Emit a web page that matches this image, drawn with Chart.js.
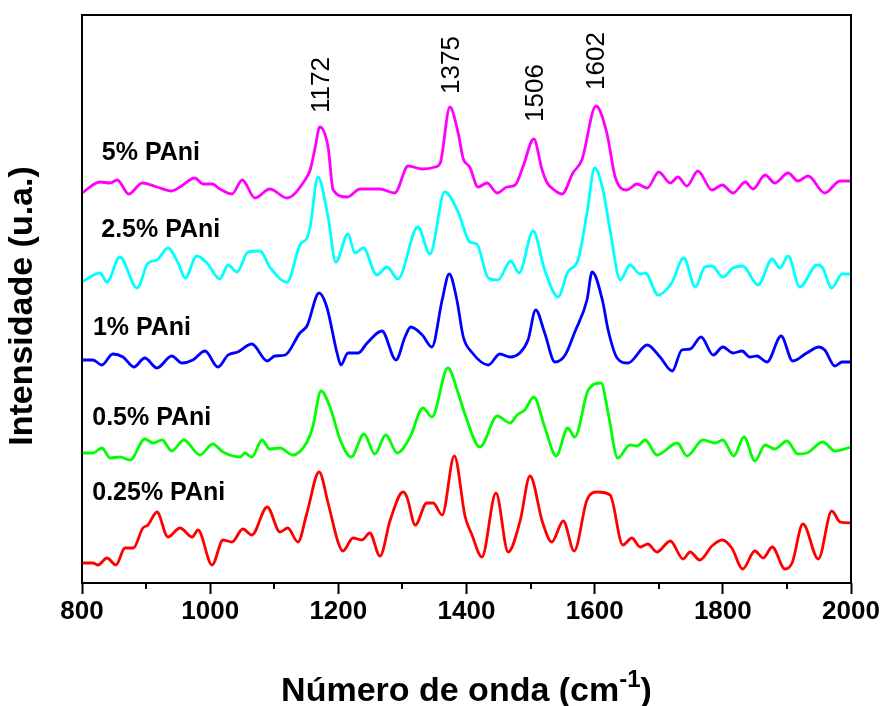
<!DOCTYPE html>
<html>
<head>
<meta charset="utf-8">
<script src="https://cdn.jsdelivr.net/npm/chart.js@4.4.1/dist/chart.umd.min.js"></script>
<style>
  html, body { margin: 0; padding: 0; background: #fff; }
  #wrap { width: 888px; height: 706px; }
</style>
</head>
<body>
<div id="wrap"><canvas id="raman"></canvas></div>
<script>
// Raman spectra, stacked (intensity already includes the vertical offset)
var seriesNames = ['5% PAni', '2.5% PAni', '1% PAni', '0.5% PAni', '0.25% PAni'];
var seriesColors = ['#ff00ff', '#00ffff', '#0000ff', '#00ff00', '#ff0000'];

var pani5Wn = [800, 828, 844, 855, 873, 894, 917, 940, 953, 976, 989, 1003, 1015, 1034, 1050, 1070, 1093, 1120, 1148, 1156, 1164, 1171, 1184, 1192, 1214, 1234, 1265, 1288, 1309, 1331, 1351, 1359, 1374, 1387, 1395, 1405, 1418, 1432, 1448, 1463, 1476, 1488, 1505, 1518, 1526, 1535, 1549, 1566, 1580, 1602, 1619, 1632, 1650, 1666, 1682, 1700, 1718, 1730, 1744, 1761, 1783, 1799, 1816, 1835, 1847, 1866, 1881, 1902, 1917, 1933, 1959, 1983, 2000];
var pani5I = [390, 401, 400, 403, 389, 400, 396, 392, 396, 405, 399, 399, 394, 389, 403, 385, 394, 385, 403, 413, 436, 456, 436, 393, 386, 394, 394, 390, 417, 414, 416, 420, 476, 450, 424, 416, 396, 400, 390, 396, 398, 416, 444, 413, 400, 394, 389, 410, 423, 477, 450, 406, 393, 399, 395, 411, 400, 406, 397, 412, 393, 398, 390, 401, 394, 408, 400, 410, 402, 407, 390, 402, 402];

var pani25Wn = [800, 828, 839, 859, 886, 903, 917, 934, 950, 961, 979, 995, 1015, 1028, 1042, 1059, 1078, 1093, 1120, 1140, 1151, 1156, 1168, 1184, 1196, 1215, 1226, 1239, 1260, 1276, 1293, 1324, 1343, 1366, 1387, 1405, 1416, 1434, 1449, 1469, 1482, 1504, 1522, 1543, 1558, 1574, 1588, 1600, 1613, 1624, 1640, 1655, 1671, 1679, 1699, 1720, 1739, 1757, 1772, 1783, 1800, 1816, 1831, 1855, 1877, 1889, 1902, 1920, 1947, 1955, 1970, 1986, 2000];
var pani25I = [301, 310, 301, 326, 295, 320, 323, 335, 320, 305, 327, 320, 304, 318, 311, 331, 332, 316, 301, 338, 345, 356, 406, 366, 321, 349, 330, 335, 308, 316, 304, 356, 329, 391, 371, 341, 339, 305, 303, 322, 310, 352, 313, 286, 311, 323, 370, 415, 393, 353, 303, 318, 309, 310, 288, 300, 325, 296, 316, 317, 306, 315, 317, 298, 324, 315, 327, 296, 318, 316, 295, 309, 309];

var pani1Wn = [800, 817, 831, 848, 864, 881, 898, 917, 940, 956, 973, 992, 1012, 1028, 1043, 1065, 1089, 1101, 1117, 1140, 1151, 1170, 1182, 1198, 1204, 1215, 1231, 1245, 1268, 1290, 1304, 1313, 1331, 1346, 1362, 1373, 1385, 1395, 1408, 1434, 1452, 1468, 1483, 1496, 1508, 1522, 1538, 1554, 1569, 1588, 1596, 1612, 1621, 1635, 1652, 1682, 1702, 1721, 1736, 1749, 1766, 1785, 1800, 1816, 1830, 1842, 1853, 1869, 1891, 1909, 1931, 1950, 1959, 1975, 1986, 2000];
var pani1I = [223, 223, 218, 229, 226, 216, 225, 215, 227, 220, 223, 232, 216, 228, 231, 239, 222, 227, 228, 250, 257, 290, 276, 230, 218, 230, 230, 240, 252, 223, 246, 256, 248, 236, 283, 309, 283, 246, 231, 218, 229, 226, 230, 243, 273, 250, 221, 228, 251, 283, 311, 283, 253, 225, 220, 238, 226, 212, 233, 234, 246, 228, 236, 230, 232, 226, 227, 221, 247, 222, 230, 236, 233, 217, 221, 221];

var pani05Wn = [800, 817, 831, 844, 859, 875, 898, 911, 925, 940, 959, 984, 1004, 1020, 1047, 1054, 1065, 1081, 1093, 1109, 1129, 1151, 1160, 1173, 1187, 1203, 1220, 1240, 1257, 1274, 1292, 1312, 1332, 1346, 1371, 1387, 1398, 1421, 1448, 1468, 1479, 1491, 1505, 1522, 1540, 1558, 1569, 1590, 1610, 1621, 1636, 1655, 1666, 1679, 1697, 1729, 1744, 1769, 1788, 1800, 1817, 1833, 1850, 1866, 1881, 1900, 1917, 1931, 1956, 1975, 2000];
var pani05I = [130, 130, 135, 125, 126, 123, 144, 140, 143, 132, 143, 128, 139, 131, 126, 130, 126, 143, 134, 135, 128, 141, 156, 192, 176, 143, 126, 149, 129, 148, 130, 146, 175, 166, 215, 190, 168, 136, 167, 160, 168, 173, 186, 156, 127, 155, 146, 193, 200, 170, 125, 138, 137, 143, 128, 140, 127, 143, 140, 143, 127, 146, 122, 138, 134, 142, 129, 130, 141, 132, 136];

var pani025Wn = [800, 817, 825, 839, 853, 867, 880, 895, 903, 917, 934, 953, 972, 981, 1003, 1020, 1034, 1051, 1065, 1089, 1109, 1121, 1137, 1151, 1170, 1184, 1200, 1207, 1223, 1237, 1249, 1265, 1281, 1301, 1307, 1320, 1338, 1348, 1362, 1381, 1398, 1408, 1424, 1446, 1465, 1484, 1499, 1519, 1533, 1551, 1568, 1588, 1604, 1624, 1644, 1658, 1671, 1683, 1697, 1718, 1738, 1749, 1764, 1783, 1799, 1814, 1831, 1850, 1863, 1877, 1897, 1908, 1925, 1949, 1970, 1983, 2000];
var pani025I = [20, 20, 18, 25, 18, 35, 35, 55, 58, 71, 46, 55, 46, 53, 18, 43, 41, 54, 48, 76, 51, 55, 41, 70, 111, 80, 40, 32, 45, 43, 50, 27, 63, 91, 86, 58, 80, 80, 68, 127, 66, 49, 26, 90, 31, 63, 107, 60, 41, 62, 32, 83, 91, 88, 38, 45, 36, 39, 31, 42, 24, 31, 23, 37, 43, 35, 14, 32, 25, 36, 14, 20, 59, 24, 72, 61, 60];

var peakLabels = ['1172', '1375', '1506', '1602'];
var peakWn = [1172, 1375, 1506, 1602];

var xTicks = [800, 1000, 1200, 1400, 1600, 1800, 2000];
var minorTicks = [900, 1100, 1300, 1500, 1700, 1900];

var allWn = [pani5Wn, pani25Wn, pani1Wn, pani05Wn, pani025Wn];
var allI = [pani5I, pani25I, pani1I, pani05I, pani025I];

function toPoints(wn, inten) {
    return wn.map(function (w, i) { return { x: w, y: inten[i] }; });
}

var datasets = seriesNames.map(function (name, i) {
    return {
        label: name,
        data: toPoints(allWn[i], allI[i]),
        borderColor: seriesColors[i],
        borderWidth: 2.8,
        pointRadius: 0,
        fill: false,
        cubicInterpolationMode: 'monotone'
    };
});

// where the text goes (data coords): series names and the peak labels
var nameAnchors = [[831, 430], [830, 353], [817, 255], [816, 165], [816, 90]];
var peakAnchors = [470, 489, 461, 493];

var decorations = {
    id: 'decorations',
    afterDraw: function (chart) {
        var ctx = chart.ctx;
        var area = chart.chartArea;
        var xs = chart.scales.x, ys = chart.scales.y;
        ctx.save();

        // frame
        ctx.strokeStyle = '#000';
        ctx.lineWidth = 2;
        ctx.strokeRect(area.left, area.top, area.right - area.left, area.bottom - area.top);

        // minor ticks
        minorTicks.forEach(function (v) {
            var px = Math.round(xs.getPixelForValue(v));
            ctx.beginPath();
            ctx.moveTo(px, area.bottom);
            ctx.lineTo(px, area.bottom + 6);
            ctx.stroke();
        });

        // series names
        ctx.fillStyle = '#000';
        ctx.font = 'bold 25px "Liberation Sans", Arial, sans-serif';
        ctx.textBaseline = 'middle';
        ctx.textAlign = 'left';
        seriesNames.forEach(function (name, i) {
            ctx.fillText(name, xs.getPixelForValue(nameAnchors[i][0]), ys.getPixelForValue(nameAnchors[i][1]));
        });

        // peak positions, rotated
        ctx.font = '26px "Liberation Sans", Arial, sans-serif';
        peakLabels.forEach(function (txt, i) {
            ctx.save();
            ctx.translate(xs.getPixelForValue(peakWn[i]), ys.getPixelForValue(peakAnchors[i]));
            ctx.rotate(-Math.PI / 2);
            ctx.textAlign = 'left';
            ctx.textBaseline = 'middle';
            ctx.fillText(txt, 0, 1);
            ctx.restore();
        });

        // y title
        ctx.save();
        ctx.font = 'bold 34px "Liberation Sans", Arial, sans-serif';
        ctx.translate(23, (area.top + area.bottom) / 2 + 7);
        ctx.rotate(-Math.PI / 2);
        ctx.textAlign = 'center';
        ctx.textBaseline = 'middle';
        ctx.fillText('Intensidade (u.a.)', 0, 0);
        ctx.restore();

        // x title with superscript
        var big = 'bold 34px "Liberation Sans", Arial, sans-serif';
        var small = 'bold 24px "Liberation Sans", Arial, sans-serif';
        var part1 = 'Número de onda (cm', sup = '-1', part2 = ')';
        ctx.font = big;
        var w1 = ctx.measureText(part1).width, w3 = ctx.measureText(part2).width;
        ctx.font = small;
        var w2 = ctx.measureText(sup).width;
        var x0 = (area.left + area.right) / 2 - (w1 + w2 + w3) / 2;
        var base = 701;
        ctx.textAlign = 'left';
        ctx.textBaseline = 'alphabetic';
        ctx.font = big;
        ctx.fillText(part1, x0, base);
        ctx.font = small;
        ctx.fillText(sup, x0 + w1, base - 14);
        ctx.font = big;
        ctx.fillText(part2, x0 + w1 + w2, base);
        ctx.restore();
    }
};

new Chart(document.getElementById('raman'), {
    type: 'line',
    data: { datasets: datasets },
    options: {
        responsive: true,
        maintainAspectRatio: false,
        animation: false,
        layout: { padding: { left: 82, right: 37, top: 15, bottom: 0 } },
        plugins: { legend: { display: false }, tooltip: { enabled: false } },
        scales: {
            x: {
                type: 'linear',
                min: 800,
                max: 2000,
                afterBuildTicks: function (scale) {
                    scale.ticks = xTicks.map(function (v) { return { value: v }; });
                },
                afterFit: function (scale) { scale.height = 123; },
                border: { display: false },
                grid: { drawOnChartArea: false, drawTicks: true, tickLength: 11, tickWidth: 2, color: '#000' },
                ticks: {
                    color: '#000',
                    padding: 2,
                    maxRotation: 0,
                    callback: function (v) { return String(v); },
                    font: { family: '"Liberation Sans", Arial, sans-serif', size: 26, weight: 'bold' }
                }
            },
            y: {
                display: false,
                min: 0,
                max: 568
            }
        }
    },
    plugins: [decorations]
});
</script>
</body>
</html>
